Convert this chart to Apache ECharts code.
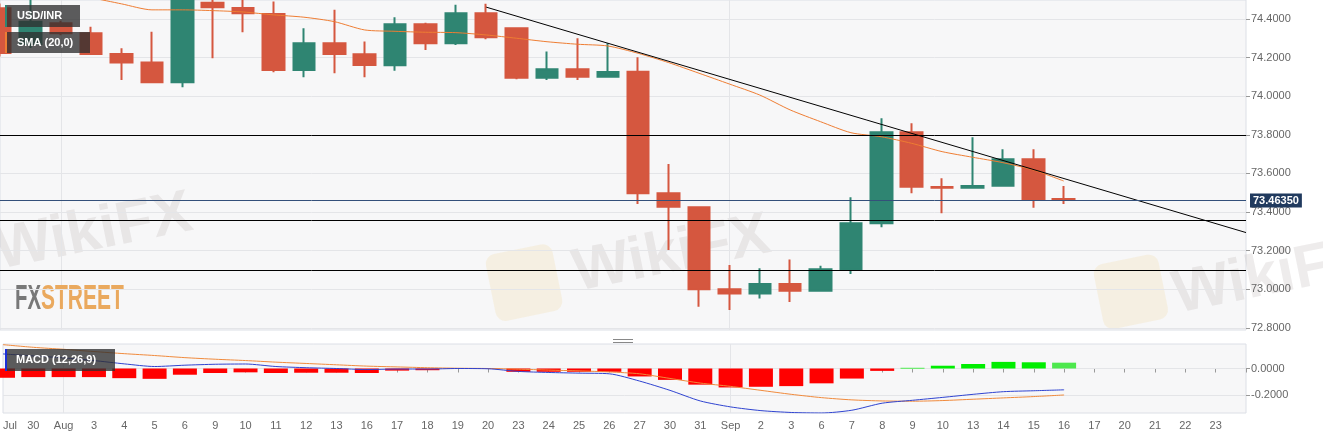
<!DOCTYPE html>
<html><head><meta charset="utf-8">
<script src="https://cdn.jsdelivr.net/npm/echarts@6/dist/echarts.min.js"></script>
<style>html,body{margin:0;padding:0;background:#fff}#c{width:1323px;height:439px}</style>
</head><body><div id="c"></div>
<script>
// ---- data ----
const dates = ['2021-07-29','2021-07-30','2021-08-02','2021-08-03','2021-08-04','2021-08-05','2021-08-06','2021-08-09','2021-08-10','2021-08-11','2021-08-12','2021-08-13','2021-08-16','2021-08-17','2021-08-18','2021-08-19','2021-08-20','2021-08-23','2021-08-24','2021-08-25','2021-08-26','2021-08-27','2021-08-30','2021-08-31','2021-09-01','2021-09-02','2021-09-03','2021-09-06','2021-09-07','2021-09-08','2021-09-09','2021-09-10','2021-09-13','2021-09-14','2021-09-15','2021-09-16','2021-09-17','2021-09-20','2021-09-21','2021-09-22','2021-09-23','2021-09-24'];
const tickLabels = ['Jul','30','Aug','3','4','5','6','9','10','11','12','13','16','17','18','19','20','23','24','25','26','27','30','31','Sep','2','3','6','7','8','9','10','13','14','15','16','17','20','21','22','23',''];
const openVals  = [74.455,74.270,74.378,74.326,74.219,74.174,74.072,74.484,74.457,74.426,74.136,74.274,74.217,74.160,74.373,74.274,74.430,74.352,74.096,74.140,74.101,74.127,73.497,73.425,73.000,72.979,73.028,72.993,73.104,73.342,73.813,73.530,73.526,73.537,73.673,73.468];
const closeVals = [74.224,74.385,74.326,74.219,74.174,74.072,74.520,74.461,74.430,74.136,74.274,74.219,74.162,74.373,74.274,74.430,74.305,74.096,74.140,74.101,74.125,73.497,73.428,73.000,72.979,73.028,72.993,73.104,73.342,73.813,73.531,73.526,73.535,73.673,73.468,73.4635];
const lowVals   = [74.205,74.250,74.315,74.214,74.084,74.068,74.046,74.196,74.331,74.124,74.098,74.119,74.098,74.132,74.239,74.265,74.295,74.088,74.084,74.084,74.098,73.442,73.204,72.910,72.893,72.953,72.934,72.990,73.079,73.321,73.497,73.394,73.526,73.537,73.423,73.442];
const highVals  = [74.480,74.510,74.390,74.360,74.248,74.334,74.550,74.510,74.510,74.490,74.352,74.447,74.283,74.409,74.380,74.473,74.478,74.355,74.231,74.300,74.274,74.202,73.649,73.425,73.126,73.109,73.155,73.122,73.477,73.886,73.860,73.575,73.787,73.725,73.725,73.535];
const smaVals   = [74.600,74.570,74.540,74.510,74.478,74.447,74.447,74.443,74.436,74.421,74.409,74.386,74.343,74.336,74.331,74.329,74.317,74.300,74.282,74.269,74.260,74.222,74.174,74.119,74.063,74.006,73.929,73.868,73.811,73.790,73.756,73.713,73.684,73.656,73.618,73.561];
const macdVals  = [0.110,0.095,0.080,0.060,0.035,0.015,0.025,0.032,0.034,0.015,0.006,0.000,-0.008,-0.004,-0.004,0.000,-0.002,-0.022,-0.030,-0.035,-0.040,-0.095,-0.165,-0.245,-0.290,-0.318,-0.332,-0.336,-0.315,-0.262,-0.240,-0.218,-0.195,-0.175,-0.168,-0.161];
const signalVals= [0.180,0.160,0.145,0.128,0.112,0.098,0.082,0.070,0.060,0.048,0.038,0.028,0.018,0.012,0.006,0.002,0.000,-0.005,-0.012,-0.018,-0.026,-0.040,-0.075,-0.110,-0.135,-0.165,-0.195,-0.220,-0.237,-0.245,-0.247,-0.242,-0.232,-0.222,-0.212,-0.200];
const histVals  = [-0.070,-0.065,-0.065,-0.065,-0.073,-0.078,-0.047,-0.034,-0.029,-0.034,-0.032,-0.032,-0.034,-0.016,-0.013,-0.003,-0.002,-0.025,-0.025,-0.025,-0.025,-0.060,-0.086,-0.122,-0.143,-0.138,-0.133,-0.112,-0.076,-0.018,0.005,0.021,0.034,0.050,0.047,0.044];
const trendLine = [[16, 74.461], [41, 73.294]];
const levelLines = [73.80, 73.364, 73.10];
const lastPrice = 73.4635;
const priceTicks = [72.8, 73.0, 73.2, 73.4, 73.6, 73.8, 74.0, 74.2, 74.4];
const macdTicks = [0, -0.2];
const monthStartIdx = [2, 24];

// ---- chart ----
const RED = '#d5573f', GREEN = '#2f8572', GRID = '#e4e5e8', FONT = 'Liberation Sans, Arial, sans-serif';
const chart = echarts.init(document.getElementById('c'), null, {renderer: 'canvas'});
const candleData = openVals.map((o, i) => [o, closeVals[i], lowVals[i], highVals[i]]);
const histData = histVals.map((v, i) => ({value: v, itemStyle: {color: v >= 0 ? (i === histVals.length - 1 ? '#4de84d' : '#00ee00') : '#ff0000'}}));
const vSplit = {show: true, interval: (i) => monthStartIdx.indexOf(i) >= 0, lineStyle: {color: GRID, width: 1}};

const option = {
  animation: false,
  textStyle: {fontFamily: FONT},
  grid: [
    {left: 0, right: 77, top: 0, height: 330, show: true, backgroundColor: '#f7f7f8', borderColor: '#dcdfe6', borderWidth: 1},
    {left: 0, right: 77, top: 344, height: 69, show: true, backgroundColor: '#f7f7f8', borderColor: '#dcdfe6', borderWidth: 1}
  ],
  xAxis: [
    {type: 'category', gridIndex: 0, data: dates, boundaryGap: false,
     axisLine: {show: false}, axisTick: {show: false}, axisLabel: {show: false}, splitLine: vSplit},
    {type: 'category', gridIndex: 1, data: dates, boundaryGap: false,
     axisLine: {show: true, lineStyle: {color: '#cdd2db'}},
     axisTick: {show: true, interval: 0, length: 4, lineStyle: {color: '#999'}},
     axisLabel: {interval: 0, formatter: (v, i) => tickLabels[i], color: '#666', fontSize: 11, margin: 7, alignMinLabel: 'left'},
     splitLine: vSplit}
  ],
  yAxis: [
    {type: 'value', gridIndex: 0, position: 'right', min: 72.7896, max: 74.498,
     axisLine: {show: false},
     axisTick: {show: true, length: 4, customValues: priceTicks, lineStyle: {color: '#999'}},
     axisLabel: {customValues: priceTicks, formatter: (v) => Number(v).toFixed(4), color: '#666', fontSize: 11, margin: 5},
     splitLine: {show: false}},
    {type: 'value', gridIndex: 1, position: 'right', min: -0.336, max: 0.185,
     axisLine: {show: false},
     axisTick: {show: true, length: 4, customValues: macdTicks, lineStyle: {color: '#999'}},
     axisLabel: {customValues: macdTicks, formatter: (v) => Number(v).toFixed(4), color: '#666', fontSize: 11, margin: 5},
     splitLine: {show: false}}
  ],
  series: [
    {type: 'line', xAxisIndex: 0, yAxisIndex: 0, data: [], silent: true,
     markLine: {z: 1, silent: true, symbol: 'none', label: {show: false}, lineStyle: {color: GRID, width: 1, type: 'solid'},
                data: priceTicks.map(v => ({yAxis: v}))}},
    {type: 'candlestick', xAxisIndex: 0, yAxisIndex: 0, data: candleData, barWidth: 22,
     itemStyle: {color: GREEN, color0: RED, borderColor: GREEN, borderColor0: RED, borderWidth: 2},
     markLine: {silent: true, symbol: 'none', animation: false,
       data: levelLines.map(v => ({yAxis: v, lineStyle: {color: '#000', width: 1, type: 'solid'}, label: {show: false}})).concat([
         {yAxis: lastPrice, lineStyle: {color: '#34507a', width: 1, type: 'solid'},
          label: {show: true, position: 'end', distance: 4, formatter: lastPrice.toFixed(5), color: '#fff',
                  backgroundColor: '#203a5e', fontWeight: 'bold', fontSize: 11, padding: [2, 3, 1, 3]}}
       ])}},
    {type: 'line', xAxisIndex: 0, yAxisIndex: 0, data: smaVals, smooth: 0.25, symbol: 'none',
     lineStyle: {color: '#ee7d33', width: 1}},
    {type: 'line', xAxisIndex: 0, yAxisIndex: 0, data: trendLine, symbol: 'none',
     lineStyle: {color: '#000', width: 1}, z: 4},
    {type: 'line', xAxisIndex: 1, yAxisIndex: 1, data: [], silent: true,
     markLine: {z: 1, silent: true, symbol: 'none', label: {show: false}, lineStyle: {color: GRID, width: 1, type: 'solid'},
                data: macdTicks.map(v => ({yAxis: v}))}},
    {type: 'bar', xAxisIndex: 1, yAxisIndex: 1, data: histData, barWidth: 24},
    {type: 'line', xAxisIndex: 1, yAxisIndex: 1, data: signalVals, smooth: 0.25, symbol: 'none',
     lineStyle: {color: '#f08a3c', width: 1}},
    {type: 'line', xAxisIndex: 1, yAxisIndex: 1, data: macdVals, smooth: 0.25, symbol: 'none',
     lineStyle: {color: '#2f43d0', width: 1}}
  ],
  graphic: [
    // watermarks
    {type: 'text', x: 2, y: 282, rotation: 0.2, z: 0, silent: true, style: {text: 'WikiFX', font: 'bold 60px ' + FONT, fill: 'rgba(185,175,175,0.24)', verticalAlign: 'bottom'}},
    {type: 'text', x: 580, y: 304, rotation: 0.2, z: 0, silent: true, style: {text: 'WikiFX', font: 'bold 60px ' + FONT, fill: 'rgba(185,175,175,0.24)', verticalAlign: 'bottom'}},
    {type: 'text', x: 1180, y: 326, rotation: 0.2, z: 0, silent: true, style: {text: 'WikiFX', font: 'bold 60px ' + FONT, fill: 'rgba(185,175,175,0.24)', verticalAlign: 'bottom'}},
    {type: 'rect', x: 484, y: 256, rotation: 0.2, z: 0, silent: true, shape: {x: 0, y: 0, width: 68, height: 68, r: 10}, style: {fill: 'rgba(240,215,150,0.22)'}},
    {type: 'rect', x: 1092, y: 266, rotation: 0.2, z: 0, silent: true, shape: {x: 0, y: 0, width: 66, height: 66, r: 10}, style: {fill: 'rgba(240,215,150,0.22)'}},
    // FXSTREET logo
    {type: 'text', x: 15, y: 317, scaleX: 0.58, z: 1, silent: true, style: {text: 'FX', font: 'bold 35px ' + FONT, fill: '#787878', verticalAlign: 'bottom'}},
    {type: 'text', x: 41, y: 317, scaleX: 0.6, z: 1, silent: true, style: {text: 'STREET', font: 'bold 35px ' + FONT, fill: '#eaa95e', verticalAlign: 'bottom'}},
    // panel drag handle
    {type: 'line', z: 10, silent: true, shape: {x1: 613, y1: 339.5, x2: 633, y2: 339.5}, style: {stroke: '#888', lineWidth: 1}},
    {type: 'line', z: 10, silent: true, shape: {x1: 613, y1: 342.5, x2: 633, y2: 342.5}, style: {stroke: '#888', lineWidth: 1}},
    // legend boxes
    {type: 'rect', z: 20, silent: true, shape: {x: 5, y: 5, width: 75, height: 22}, style: {fill: 'rgba(48,48,48,0.78)'}},
    {type: 'rect', z: 21, silent: true, shape: {x: 5, y: 5, width: 2, height: 22}, style: {fill: GREEN}},
    {type: 'text', z: 22, silent: true, x: 17, y: 16, style: {text: 'USD/INR', font: 'bold 11px ' + FONT, fill: '#fff', verticalAlign: 'middle'}},
    {type: 'rect', z: 20, silent: true, shape: {x: 5, y: 32, width: 85, height: 21}, style: {fill: 'rgba(48,48,48,0.78)'}},
    {type: 'rect', z: 21, silent: true, shape: {x: 5, y: 32, width: 2, height: 21}, style: {fill: '#ee7d33'}},
    {type: 'text', z: 22, silent: true, x: 17, y: 43, style: {text: 'SMA (20,0)', font: 'bold 11px ' + FONT, fill: '#fff', verticalAlign: 'middle'}},
    {type: 'rect', z: 20, silent: true, shape: {x: 5, y: 349, width: 110, height: 22}, style: {fill: 'rgba(48,48,48,0.78)'}},
    {type: 'rect', z: 21, silent: true, shape: {x: 5, y: 349, width: 2, height: 22}, style: {fill: '#1b2fd8'}},
    {type: 'text', z: 22, silent: true, x: 16, y: 360, style: {text: 'MACD (12,26,9)', font: 'bold 11px ' + FONT, fill: '#fff', verticalAlign: 'middle'}}
  ]
};
chart.setOption(option);
</script></body></html>
